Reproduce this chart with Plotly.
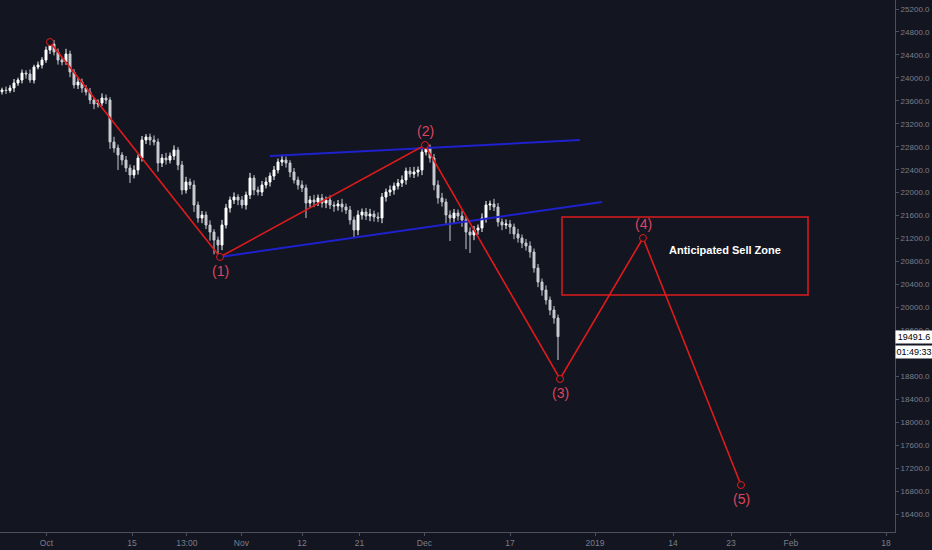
import plotly.graph_objects as go

# candle closes (one candle per ~4px)
closes = [
    23789, 23780, 23823, 23911, 23963, 24085, 24067, 23963, 24189, 24224,
    24311, 24486, 24590, 24451, 24311, 24277, 24416, 24102, 23876, 23928,
    23823, 23754, 23614, 23545, 23562, 23649, 23614, 22883, 22778, 22656,
    22569, 22430, 22308, 22395, 22604, 22917, 22970, 22917, 22883, 22517,
    22604, 22569, 22639, 22743, 22482, 22046, 22186, 22133, 21785, 21558,
    21611, 21436, 21314, 21175, 21088, 21436, 21733, 21872, 21924, 21872,
    21785, 21959, 22255, 22046, 22011, 22133, 22186, 22290, 22395, 22534,
    22569, 22517, 22360, 22220, 22133, 22081, 21820, 21872, 21837, 21907,
    21820, 21872, 21785, 21767, 21802, 21750, 21698, 21524, 21349, 21611,
    21663, 21593, 21628, 21576, 21558, 21924, 22011, 22046, 22116, 22168,
    22220, 22377, 22325, 22360, 22395, 22708, 22778, 22604, 22133, 21907,
    21837, 21611, 21558, 21646, 21593, 21524, 21314, 21262, 21349, 21384,
    21558, 21785, 21802, 21750, 21489, 21436, 21454, 21401, 21279, 21210,
    21123, 21071, 20966, 20687, 20443, 20304, 20130, 19955, 19816, 19491.6,
]
first_open = 23760

wick_up = [
    40, 60, 50, 70, 40, 60, 50, 80, 40, 60,
    50, 60, 35, 70, 60, 50, 90, 60, 50, 70,
    60, 50, 70, 40, 60, 80, 60, 50, 90, 60,
    50, 70, 60, 80, 60, 70, 50, 60, 80, 60,
    70, 90, 60, 80, 50, 70, 90, 60, 80, 60,
    70, 60, 80, 50, 60, 90, 70, 60, 80, 50,
    70, 60, 90, 50, 60, 70, 80, 60, 70, 60,
    80, 60, 50, 70, 60, 80, 60, 70, 90, 60,
    70, 60, 80, 60, 70, 90, 60, 70, 60, 80,
    60, 70, 90, 60, 80, 70, 60, 80, 60, 70,
    80, 60, 70, 90, 60, 70, 52, 60, 70, 80,
    90, 60, 80, 70, 60, 90, 60, 80, 70, 60,
    80, 70, 60, 90, 70, 60, 80, 70, 60, 90,
    60, 70, 80, 60, 70, 60, 80, 60, 70, 60,
]
wick_dn = [
    50, 60, 40, 70, 50, 60, 80, 50, 60, 40,
    60, 50, 70, 60, 80, 60, 50, 90, 60, 70,
    80, 60, 70, 90, 60, 50, 70, 120, 80, 261,
    90, 70, 140, 60, 80, 60, 70, 90, 60, 150,
    70, 80, 60, 70, 90, 80, 60, 70, 120, 80,
    90, 70, 150, 250, 209, 90, 60, 80, 70, 90,
    60, 80, 70, 90, 60, 70, 60, 80, 70, 60,
    70, 80, 90, 60, 80, 70, 262, 80, 90, 70,
    80, 90, 70, 100, 80, 90, 70, 80, 122, 90,
    80, 70, 90, 80, 70, 90, 80, 70, 80, 60,
    70, 80, 60, 70, 80, 90, 60, 80, 90, 100,
    80, 150, 400, 90, 80, 120, 300, 313, 90, 80,
    70, 80, 90, 70, 80, 90, 70, 120, 90, 80,
    90, 80, 100, 80, 90, 100, 80, 90, 100, 408,
]

# elliott wave pivots (bar index, price)
wave_x = [12, 54.5, 105.75, 139.5, 160.25, 184.75]
wave_y = [24625, 20879, 22830, 18753, 21210, 16906]
wave_labels = ["", "(1)", "(2)", "(3)", "(4)", "(5)"]
wave_label_pos = ["", "below", "above", "below", "above", "below"]

# channel lines
upper_x = [67, 144.5]
upper_y = [22639, 22917]
lower_x = [54.5, 150]
lower_y = [20879, 21837]

# sell zone box
zone_x = [140, 201.5]
zone_y = [20217, 21576]

tick_pos = [11.1, 32.5, 46.2, 59.85, 75, 89.4, 105.6, 127, 148.25, 167.75, 182.25, 197.2, 221]
tick_text = ["Oct", "15", "13:00", "Nov", "12", "21", "Dec", "17", "2019", "14", "23", "Feb", "18"]

price_ticks = list(range(16400, 25201, 400))
last_price = 19491.6
countdown = "01:49:33"

bg = "#131521"
axis_col = "#4c505c"
text_col = "#7c7f8a"
red = "#e01b1b"
label_red = "#dc4560"
blue = "#1f22cc"

idx = list(range(len(closes)))
opens = [first_open] + closes[:-1]
highs = [max(o, c) + w for o, c, w in zip(opens, closes, wick_up)]
lows = [min(o, c) - w for o, c, w in zip(opens, closes, wick_dn)]

fig = go.Figure()

fig.add_trace(go.Scatter(x=upper_x, y=upper_y, mode="lines",
                         line=dict(color=blue, width=2), hoverinfo="skip"))
fig.add_trace(go.Scatter(x=lower_x, y=lower_y, mode="lines",
                         line=dict(color=blue, width=2), hoverinfo="skip"))

fig.add_trace(go.Candlestick(
    x=idx, open=opens, high=highs, low=lows, close=closes,
    increasing=dict(line=dict(color="#ffffff", width=1), fillcolor="#ffffff"),
    decreasing=dict(line=dict(color="#c9cbd2", width=1), fillcolor="#c9cbd2"),
    whiskerwidth=0,
))

fig.add_trace(go.Scatter(
    x=wave_x, y=wave_y, mode="lines+markers",
    line=dict(color=red, width=1.6),
    marker=dict(symbol="circle", size=7, color=bg, line=dict(color=red, width=1)),
    hoverinfo="skip",
))

fig.add_shape(type="rect", x0=zone_x[0], x1=zone_x[1], y0=zone_y[0], y1=zone_y[1],
              line=dict(color=red, width=1.5), fillcolor="rgba(0,0,0,0)")

fig.add_annotation(x=(zone_x[0] + zone_x[1]) / 2 + 10, y=21001, text="<b>Anticipated Sell Zone</b>",
                   showarrow=False, font=dict(color="#ffffff", size=11, family="Liberation Sans"))

for wx, wy, lab, pos in zip(wave_x, wave_y, wave_labels, wave_label_pos):
    if not lab:
        continue
    fig.add_annotation(x=wx, y=wy, text=lab, showarrow=False,
                       yshift=14 if pos == "above" else -14,
                       font=dict(color=label_red, size=14, family="Liberation Sans"))

fig.add_annotation(xref="paper", x=1, xanchor="left", y=last_price, yref="y",
                   text=f"{last_price}", showarrow=False, bgcolor="#ffffff",
                   width=36, height=12, borderpad=0,
                   font=dict(color="#000000", size=9, family="Liberation Sans"))
fig.add_annotation(xref="paper", x=1, xanchor="left", y=last_price, yref="y", yshift=-15,
                   text=countdown, showarrow=False, bgcolor="#ffffff",
                   width=36, height=12, borderpad=0,
                   font=dict(color="#000000", size=9, family="Liberation Sans"))

fig.update_layout(
    width=932, height=550,
    margin=dict(l=0, r=37, t=0, b=18),
    paper_bgcolor=bg, plot_bgcolor=bg,
    showlegend=False,
    font=dict(family="Liberation Sans", color=text_col, size=8),
)
fig.update_xaxes(
    range=[-0.5, 223.25], rangeslider_visible=False,
    tickvals=tick_pos, ticktext=tick_text,
    showgrid=False, zeroline=False,
    showline=True, linecolor=axis_col, linewidth=1,
    ticks="outside", ticklen=3, tickcolor=axis_col,
    tickfont=dict(size=8.5, color=text_col),
)
fig.update_yaxes(
    range=[16087, 25357], side="right",
    tickvals=price_ticks, ticktext=[f"{v}.0" for v in price_ticks],
    showgrid=False, zeroline=False,
    showline=True, linecolor=axis_col, linewidth=1,
    ticks="outside", ticklen=3, tickcolor=axis_col,
    tickfont=dict(size=8, color=text_col),
)

# drop the default page margin so the chart sits flush in the window
fig.write_html("out.html", config={"displayModeBar": False},
               post_script="document.body.style.margin='0';document.body.style.background='" + bg + "';")
